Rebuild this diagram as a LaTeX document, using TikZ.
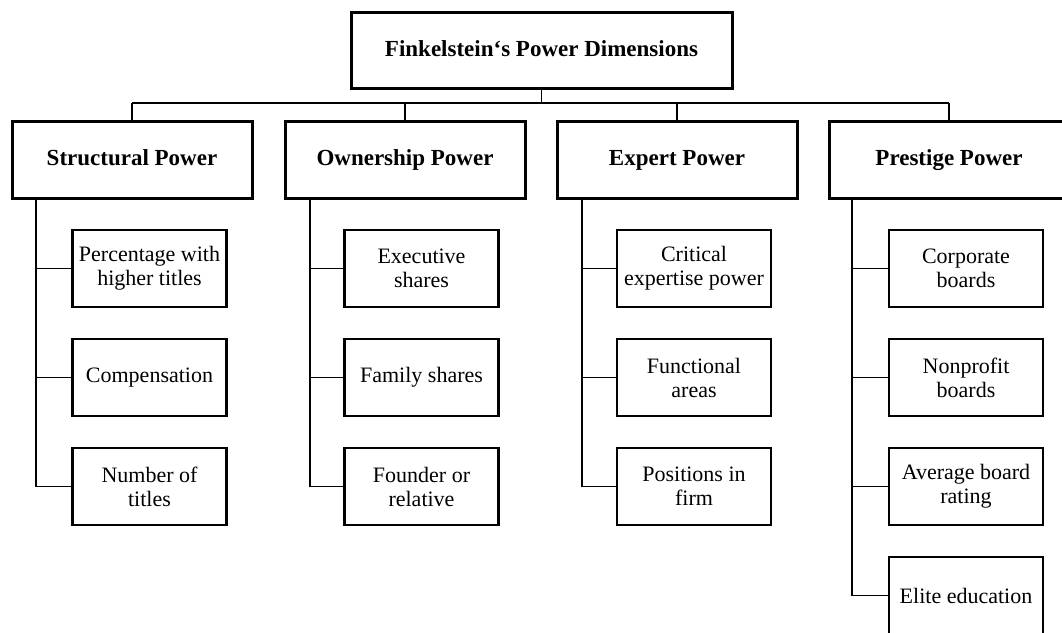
\documentclass[tikz,border=0pt]{standalone}
\usepackage{fontspec}
\setmainfont{Liberation Serif}
\begin{document}
\begin{tikzpicture}[x=1pt,y=-1pt,
  box/.style={draw, line width=3pt, minimum width=240pt, minimum height=77pt, inner sep=0pt, outer sep=0pt, text height=15.5pt, text depth=3pt, font=\fontsize{23}{25}\selectfont\bfseries},
  topbox/.style={box, minimum width=381pt, minimum height=76pt},
  leaf/.style={draw, line width=2.3pt, minimum width=154pt, minimum height=77pt, inner sep=0pt, outer sep=0pt, align=center, font=\fontsize{22}{24}\selectfont},
  conn/.style={line width=1.4pt}]
\useasboundingbox (0,0) rectangle (1062,632);
\clip (0,0) rectangle (1062,632);
% top
\node[topbox] (top) at (541.5,50) {Finkelstein‘s Power Dimensions};
% level 2
\node[box] (s1) at (132,159.5) {Structural Power};
\node[box] (s2) at (405,159.5) {Ownership Power};
\node[box] (s3) at (677,159.5) {Expert Power};
\node[box] (s4) at (949,159.5) {Prestige Power};
% leaves
\node[leaf] (c11) at (149.5,268.5) {Percentage with\\higher titles};
\node[leaf] (c12) at (149.5,377.5) {Compensation};
\node[leaf] (c13) at (149.5,486.5) {Number of\\titles};
\node[leaf] (c21) at (421.5,268.5) {Executive\\shares};
\node[leaf] (c22) at (421.5,377.5) {Family shares};
\node[leaf] (c23) at (421.5,486.5) {Founder or\\relative};
\node[leaf] (c31) at (694,268.5) {Critical\\expertise power};
\node[leaf] (c32) at (694,377.5) {Functional\\areas};
\node[leaf] (c33) at (694,486.5) {Positions in\\firm};
\node[leaf] (c41) at (966,268.5) {Corporate\\boards};
\node[leaf] (c42) at (966,377.5) {Nonprofit\\boards};
\node[leaf] (c43) at (966,486.5) {Average board\\rating};
\node[leaf] (c44) at (966,595.5) {Elite education};
% bus
\coordinate (busL) at (132,103);
\coordinate (busR) at (949,103);
\draw[conn] (busL) -- (busR);
\draw[conn] (top.south) -- (top.south |- busL);
\foreach \s in {s1,s2,s3,s4}{\draw[conn] (\s.north) -- (\s.north |- busL);}
% trunks
\coordinate (t1) at ([xshift=24pt]s1.south west);
\coordinate (t2) at ([xshift=25pt]s2.south west);
\coordinate (t3) at ([xshift=25pt]s3.south west);
\coordinate (t4) at ([xshift=23pt]s4.south west);
\draw[conn] (t1) |- (c13.west);
\draw[conn] (t1 |- c11.west) -- (c11.west);
\draw[conn] (t1 |- c12.west) -- (c12.west);
\draw[conn] (t2) |- (c23.west);
\draw[conn] (t2 |- c21.west) -- (c21.west);
\draw[conn] (t2 |- c22.west) -- (c22.west);
\draw[conn] (t3) |- (c33.west);
\draw[conn] (t3 |- c31.west) -- (c31.west);
\draw[conn] (t3 |- c32.west) -- (c32.west);
\draw[conn] (t4) |- (c44.west);
\draw[conn] (t4 |- c41.west) -- (c41.west);
\draw[conn] (t4 |- c42.west) -- (c42.west);
\draw[conn] (t4 |- c43.west) -- (c43.west);
\end{tikzpicture}
\end{document}
